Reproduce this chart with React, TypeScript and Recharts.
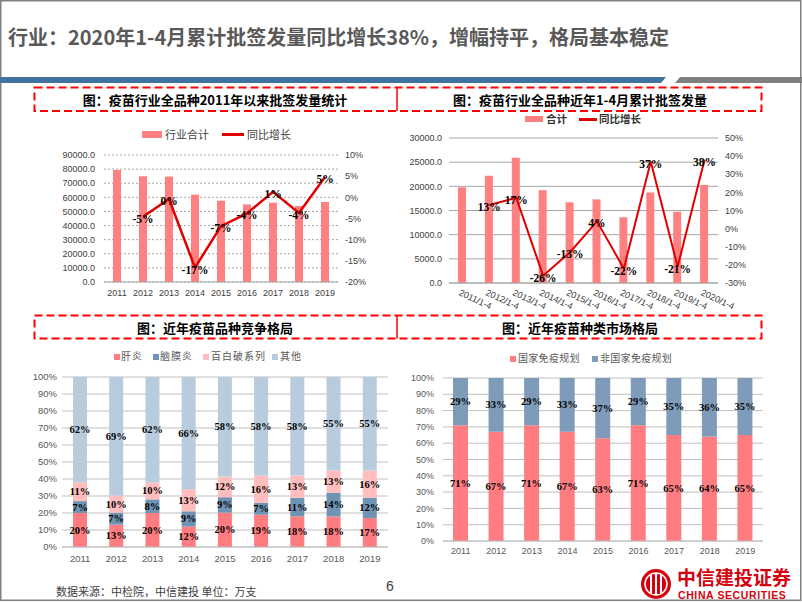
import React from 'react';
import {
  ComposedChart,
  BarChart,
  Bar,
  Line,
  XAxis,
  YAxis,
  CartesianGrid,
  LabelList,
} from 'recharts';

const SANS = '"Noto Sans CJK SC", "Noto Sans", sans-serif';
const ARIAL = '"Liberation Sans", Arial, sans-serif';
const TIMES = '"Liberation Serif", "Times New Roman", serif';

// 图1：2011年以来批签发量
const years = ['2011', '2012', '2013', '2014', '2015', '2016', '2017', '2018', '2019'];
const yearTotal = [79400, 74900, 74700, 61900, 57600, 55000, 56200, 53900, 56700];
const yearGrowth = [null, -4.6, -0.4, -16.6, -6.8, -3.8, 1.3, -3.7, 4.8];
const yearTotalTicks = [0, 10000, 20000, 30000, 40000, 50000, 60000, 70000, 80000, 90000];
const yearGrowthTicks = [-20, -15, -10, -5, 0, 5, 10];

// 图2：近年1-4月累计批签发量
const periods = ['2011/1-4', '2012/1-4', '2013/1-4', '2014/1-4', '2015/1-4', '2016/1-4', '2017/1-4', '2018/1-4', '2019/1-4', '2020/1-4'];
const periodTotal = [19800, 22200, 25900, 19200, 16700, 17300, 13600, 18700, 14750, 20300];
const periodGrowth = [null, 13, 17, -26, -13, 4, -22, 37, -21, 38];
const periodTotalTicks = [0, 5000, 10000, 15000, 20000, 25000, 30000];
const periodGrowthTicks = [-30, -20, -10, 0, 10, 20, 30, 40, 50];

// 图3：品种竞争格局（%）
const hepatitis = [20, 13, 20, 12, 20, 19, 18, 18, 17];
const meningitis = [7, 7, 8, 9, 9, 7, 11, 14, 12];
const dtp = [11, 10, 10, 13, 12, 16, 13, 13, 16];
const others = [62, 69, 62, 66, 58, 58, 58, 55, 55];

// 图4：种类市场格局（%）
const nip = [71, 67, 71, 67, 63, 71, 65, 64, 65];
const nonNip = [29, 33, 29, 33, 37, 29, 35, 36, 35];

const shareTicks = [0, 10, 20, 30, 40, 50, 60, 70, 80, 90, 100];

const chart1Data = years.map((year, i) => ({ year, total: yearTotal[i], growth: yearGrowth[i] }));
const chart2Data = periods.map((period, i) => ({ period, total: periodTotal[i], growth: periodGrowth[i] }));
const chart3Data = years.map((year, i) => ({
  year,
  hepatitis: hepatitis[i],
  meningitis: meningitis[i],
  dtp: dtp[i],
  others: others[i],
}));
const chart4Data = years.map((year, i) => ({ year, nip: nip[i], nonNip: nonNip[i] }));

const RED_BAR = '#FF8080';
const RED_LINE = '#E00000';

const GrowthLabel = (props: any) => {
  const vb = props.viewBox ?? props;
  const { value } = props;
  if (value == null || vb.x == null || vb.y == null) return null;
  return (
    <text
      x={vb.x}
      y={vb.y + 2}
      textAnchor="middle"
      dominantBaseline="central"
      fontFamily={TIMES}
      fontWeight="bold"
      fontSize={11.5}
      fill="#000"
    >
      {`${Math.round(value)}%`}
    </text>
  );
};

const ShareLabel = (props: any) => {
  const vb = props.viewBox ?? props;
  const { value } = props;
  if (value == null) return null;
  return (
    <text
      x={vb.x + (vb.width || 0) / 2}
      y={vb.y + (vb.height || 0) / 2}
      textAnchor="middle"
      dominantBaseline="central"
      fontFamily={TIMES}
      fontWeight="bold"
      fontSize={10.5}
      fill="#000"
    >
      {`${value}%`}
    </text>
  );
};

const SlantTick = (props: any) => {
  const { x, y, payload } = props;
  const tx = x - 3;
  const ty = y + 5;
  return (
    <text
      x={tx}
      y={ty}
      transform={`rotate(25 ${tx} ${ty})`}
      textAnchor="start"
      dominantBaseline="central"
      fontFamily={ARIAL}
      fontSize={9}
      fill="#404040"
    >
      {payload.value}
    </text>
  );
};

const tick9 = { fill: '#404040', fontSize: 9, fontFamily: ARIAL };
const tickGray = { fill: '#595959', fontSize: 9.5, fontFamily: ARIAL };

const Txt = ({ left, top, size, children, color = '#404040', weight = 400, family = SANS, spacing = 0 }: any) => (
  <div
    style={{
      position: 'absolute',
      left,
      top,
      fontSize: size,
      lineHeight: `${size}px`,
      color,
      fontWeight: weight,
      fontFamily: family,
      letterSpacing: spacing,
      whiteSpace: 'nowrap',
      transform: 'translateY(-50%)',
    }}
  >
    {children}
  </div>
);

const Swatch = ({ left, top, w, h, color }: any) => (
  <div style={{ position: 'absolute', left, top: top - h / 2, width: w, height: h, background: color }} />
);

const CenterTitle = ({ cx, cy, children }: any) => (
  <div
    style={{
      position: 'absolute',
      left: cx - 200,
      width: 400,
      top: cy,
      textAlign: 'center',
      fontSize: 13,
      lineHeight: '13px',
      fontWeight: 700,
      fontFamily: SANS,
      color: '#000',
      transform: 'translateY(-50%)',
    }}
  >
    {children}
  </div>
);

const Decorations = () => (
  <svg width={802} height={602} style={{ position: 'absolute', left: 0, top: 0 }}>
    <rect x={0.75} y={0.75} width={800} height={599.5} fill="#fff" stroke="#808080" strokeWidth={1.5} />
    <polygon points="0,77 666,77 661,83 0,83" fill="#41729F" />
    <polygon points="680,77 802,77 802,83 675,83" fill="#7F7F7F" />
    <rect x={34.5} y={87.5} width={727} height={23.5} fill="none" stroke="#FF0000" strokeWidth={2} strokeDasharray="8 4" />
    <line x1={397} y1={87.5} x2={397} y2={111} stroke="#FF0000" strokeWidth={1.5} />
    <rect x={34.5} y={315.5} width={727} height={23} fill="none" stroke="#FF0000" strokeWidth={2} strokeDasharray="8 4" />
    <line x1={397} y1={315.5} x2={397} y2={338.5} stroke="#FF0000" strokeWidth={1.5} />
    <g>
      <circle cx={656} cy={584} r={15} fill="#D7000F" />
      <circle cx={656} cy={584} r={11} fill="none" stroke="#fff" strokeWidth={1.5} />
      <rect x={650} y={575} width={2} height={18} fill="#fff" />
      <rect x={655} y={573} width={2} height={22} fill="#fff" />
      <rect x={660} y={575} width={2} height={18} fill="#fff" />
    </g>
  </svg>
);

export default function App() {
  return (
    <div style={{ position: 'absolute', left: 0, top: 0, width: 802, height: 602, overflow: 'hidden', background: '#fff' }}>
      <Decorations />

      <Txt left={8} top={37} size={20} color="#595959" weight={700}>
        行业：2020年1-4月累计批签发量同比增长38%，增幅持平，格局基本稳定
      </Txt>

      <CenterTitle cx={215} cy={99}>图：疫苗行业全品种2011年以来批签发量统计</CenterTitle>
      <CenterTitle cx={580} cy={99}>图：疫苗行业全品种近年1-4月累计批签发量</CenterTitle>
      <CenterTitle cx={215} cy={327}>图：近年疫苗品种竞争格局</CenterTitle>
      <CenterTitle cx={580} cy={327}>图：近年疫苗种类市场格局</CenterTitle>

      {/* 图1 图例 */}
      <Swatch left={142} top={134} w={20} h={7} color={RED_BAR} />
      <Txt left={165} top={134} size={11}>行业合计</Txt>
      <Swatch left={222} top={134} w={22} h={3} color={RED_LINE} />
      <Txt left={247} top={134} size={11}>同比增长</Txt>

      {/* 图2 图例 */}
      <Swatch left={525} top={119} w={18} h={6} color={RED_BAR} />
      <Txt left={546} top={119} size={10.5} weight={700} color="#333">合计</Txt>
      <Swatch left={579} top={119} w={18} h={3} color={RED_LINE} />
      <Txt left={599} top={119} size={10.5} weight={700} color="#333">同比增长</Txt>

      {/* 图3 图例 */}
      <Swatch left={114} top={357} w={6} h={6} color="#FF7C80" />
      <Txt left={121} top={356} size={10} color="#595959" spacing={1}>肝炎</Txt>
      <Swatch left={153} top={357} w={6} h={6} color="#6F93B2" />
      <Txt left={160} top={356} size={10} color="#595959" spacing={1}>脑膜炎</Txt>
      <Swatch left={203} top={357} w={6} h={6} color="#FFBDBD" />
      <Txt left={211} top={356} size={10} color="#595959" spacing={1}>百白破系列</Txt>
      <Swatch left={272} top={357} w={6} h={6} color="#B8CCDD" />
      <Txt left={280} top={356} size={10} color="#595959" spacing={1}>其他</Txt>

      {/* 图4 图例 */}
      <Swatch left={510} top={359} w={6} h={6} color="#FF7C80" />
      <Txt left={518} top={358} size={10} color="#595959" spacing={0.3}>国家免疫规划</Txt>
      <Swatch left={592} top={359} w={6} h={6} color="#7E9CB9" />
      <Txt left={600} top={358} size={10} color="#595959" spacing={0.3}>非国家免疫规划</Txt>

      {/* 图1 */}
      <div style={{ position: 'absolute', left: 40, top: 125 }}>
        <ComposedChart width={340} height={182} data={chart1Data} margin={{ top: 30, right: 0, bottom: 0, left: 0 }}>
          <CartesianGrid yAxisId="left" vertical={false} stroke="#a6a6a6" strokeDasharray="2 2" />
          <XAxis dataKey="year" interval={0} height={25} axisLine={{ stroke: '#a6a6a6' }} tickLine={false} tickSize={0} tickMargin={8} tick={tick9} />
          <YAxis yAxisId="left" width={64} interval={0} domain={[0, 90000]} ticks={yearTotalTicks} tickFormatter={(v: number) => v.toFixed(1)} axisLine={false} tickLine={false} tickSize={0} tickMargin={9} tick={tick9} />
          <YAxis yAxisId="right" orientation="right" width={42} interval={0} domain={[-20, 10]} ticks={yearGrowthTicks} tickFormatter={(v: number) => `${v}%`} axisLine={false} tickLine={false} tickSize={0} tickMargin={7} tick={tick9} />
          <Bar yAxisId="left" dataKey="total" fill={RED_BAR} barSize={8} isAnimationActive={false} />
          <Line yAxisId="right" type="linear" dataKey="growth" stroke={RED_LINE} strokeWidth={2.5} dot={false} isAnimationActive={false}>
            <LabelList dataKey="growth" content={GrowthLabel} />
          </Line>
        </ComposedChart>
      </div>

      {/* 图2 */}
      <div style={{ position: 'absolute', left: 385, top: 128 }}>
        <ComposedChart width={373} height={195} data={chart2Data} margin={{ top: 10, right: 0, bottom: 0, left: 0 }}>
          <CartesianGrid yAxisId="left" vertical={false} stroke="#a6a6a6" />
          <XAxis dataKey="period" interval={0} height={40} axisLine={{ stroke: '#a6a6a6' }} tickLine={false} tickSize={0} tickMargin={4} tick={<SlantTick />} />
          <YAxis yAxisId="left" width={64} interval={0} domain={[0, 30000]} ticks={periodTotalTicks} tickFormatter={(v: number) => v.toFixed(1)} axisLine={false} tickLine={false} tickSize={0} tickMargin={7} tick={tick9} />
          <YAxis yAxisId="right" orientation="right" width={40} interval={0} domain={[-30, 50]} ticks={periodGrowthTicks} tickFormatter={(v: number) => `${v}%`} axisLine={false} tickLine={false} tickSize={0} tickMargin={7} tick={tick9} />
          <Bar yAxisId="left" dataKey="total" fill={RED_BAR} barSize={8} isAnimationActive={false} />
          <Line yAxisId="right" type="linear" dataKey="growth" stroke={RED_LINE} strokeWidth={2} dot={false} isAnimationActive={false}>
            <LabelList dataKey="growth" content={GrowthLabel} />
          </Line>
        </ComposedChart>
      </div>

      {/* 图3 */}
      <div style={{ position: 'absolute', left: 5, top: 370 }}>
        <BarChart width={383} height={199} data={chart3Data} stackOffset="expand" margin={{ top: 7, right: 0, bottom: 0, left: 0 }}>
          <CartesianGrid vertical={false} stroke="#bfbfbf" />
          <XAxis dataKey="year" interval={0} height={22} axisLine={{ stroke: '#bfbfbf' }} tickLine={false} tickSize={0} tickMargin={8} tick={tickGray} />
          <YAxis width={57} interval={0} domain={[0, 1]} ticks={shareTicks.map((t) => t / 100)} tickFormatter={(v: number) => `${Math.round(v * 100)}%`} axisLine={false} tickLine={false} tickSize={0} tickMargin={5} tick={tickGray} />
          <Bar dataKey="hepatitis" stackId="s" fill="#FF7C80" barSize={14} isAnimationActive={false}>
            <LabelList dataKey="hepatitis" content={ShareLabel} />
          </Bar>
          <Bar dataKey="meningitis" stackId="s" fill="#6F93B2" barSize={14} isAnimationActive={false}>
            <LabelList dataKey="meningitis" content={ShareLabel} />
          </Bar>
          <Bar dataKey="dtp" stackId="s" fill="#FFBDBD" barSize={14} isAnimationActive={false}>
            <LabelList dataKey="dtp" content={ShareLabel} />
          </Bar>
          <Bar dataKey="others" stackId="s" fill="#B8CCDD" barSize={14} isAnimationActive={false}>
            <LabelList dataKey="others" content={ShareLabel} />
          </Bar>
        </BarChart>
      </div>

      {/* 图4 */}
      <div style={{ position: 'absolute', left: 385, top: 370 }}>
        <BarChart width={378} height={193} data={chart4Data} margin={{ top: 8, right: 0, bottom: 0, left: 0 }}>
          <CartesianGrid vertical={false} stroke="#bfbfbf" />
          <XAxis dataKey="year" interval={0} height={22} axisLine={{ stroke: '#bfbfbf' }} tickLine={false} tickSize={0} tickMargin={7} tick={{ ...tickGray, fontSize: 9 }} />
          <YAxis width={58} interval={0} domain={[0, 100]} ticks={shareTicks} tickFormatter={(v: number) => `${v}%`} axisLine={false} tickLine={false} tickSize={0} tickMargin={9} tick={{ ...tickGray, fontSize: 9 }} />
          <Bar dataKey="nip" stackId="s" fill="#FF7C80" barSize={15} isAnimationActive={false}>
            <LabelList dataKey="nip" content={ShareLabel} />
          </Bar>
          <Bar dataKey="nonNip" stackId="s" fill="#7E9CB9" barSize={15} isAnimationActive={false}>
            <LabelList dataKey="nonNip" content={ShareLabel} />
          </Bar>
        </BarChart>
      </div>

      {/* 页脚 */}
      <Txt left={56} top={591} size={11} color="#404040">数据来源：中检院，中信建投 单位：万支</Txt>
      <Txt left={386} top={586} size={14} color="#404040" family={ARIAL}>6</Txt>
      <Txt left={677} top={576} size={19} color="#D7000F" weight={700}>中信建投证券</Txt>
      <Txt left={678} top={594.5} size={10.5} color="#D7000F" weight={700} family={ARIAL} spacing={0.6}>CHINA SECURITIES</Txt>
    </div>
  );
}
